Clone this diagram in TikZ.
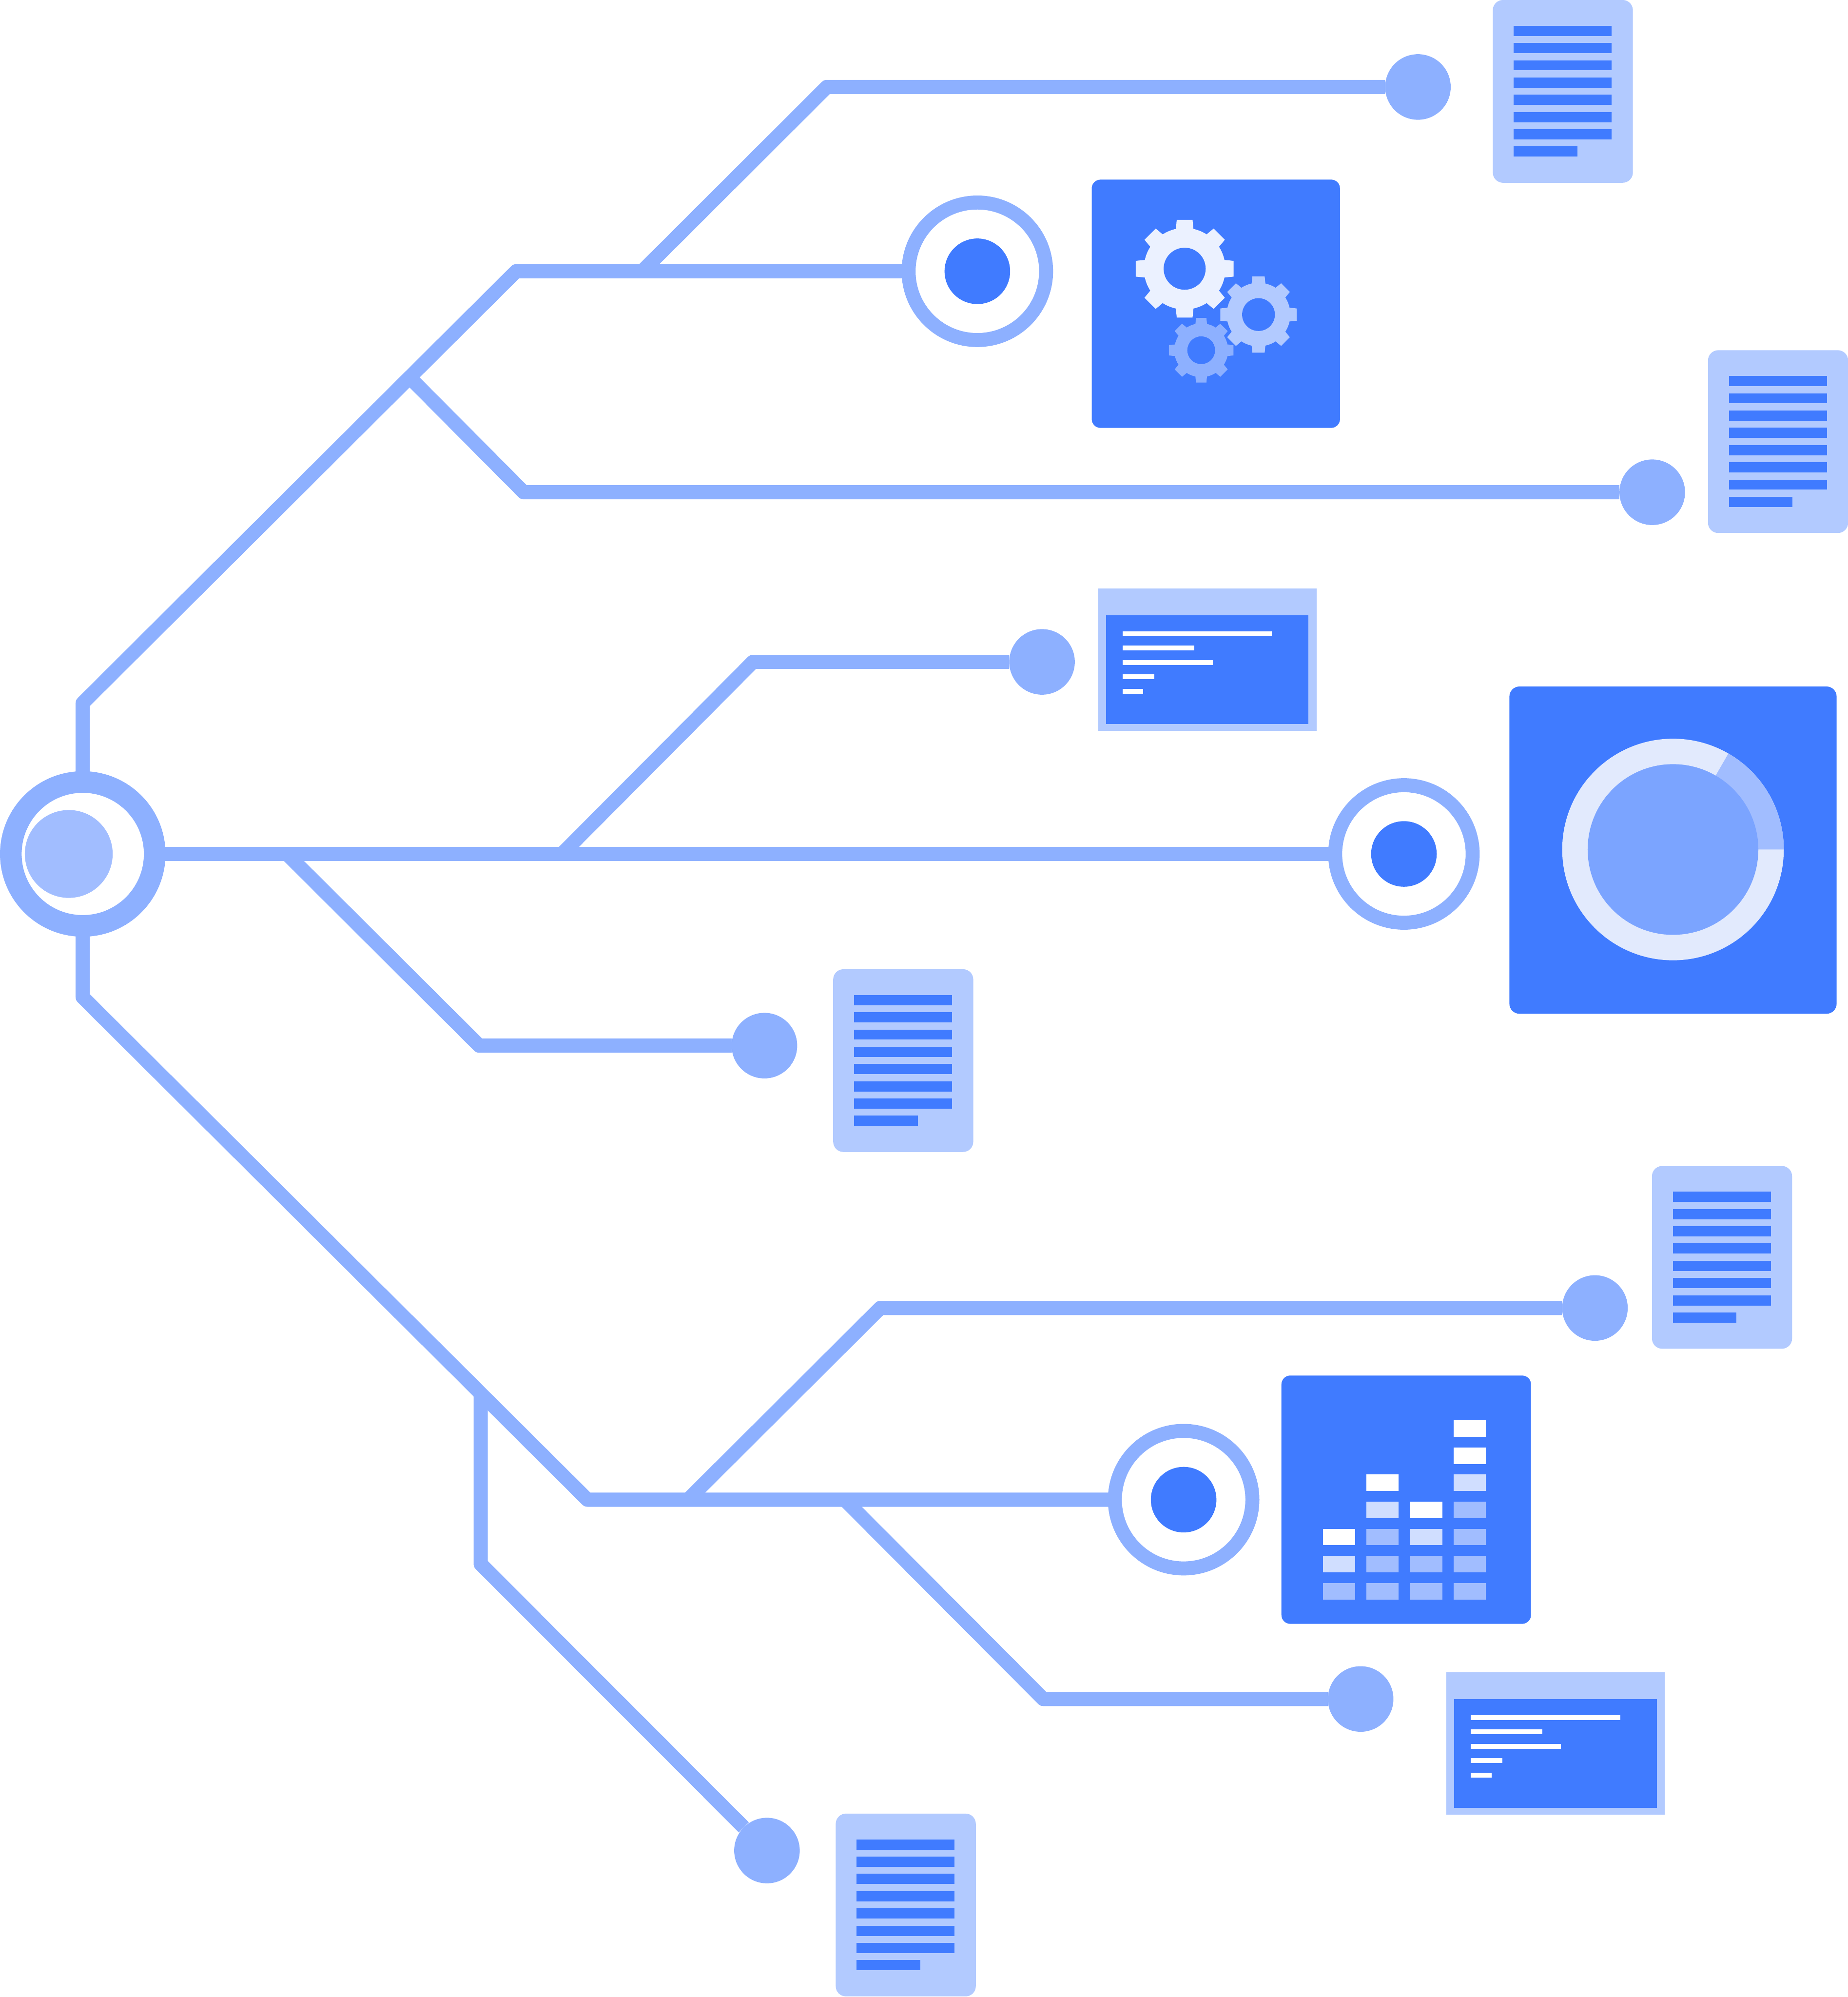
\documentclass[tikz,border=0pt]{standalone}
\usepackage{tikz}
\definecolor{LineBlue}{RGB}{141,176,255}
\definecolor{DeepBlue}{RGB}{64,123,255}
\definecolor{SheetBlue}{RGB}{178,202,255}
\definecolor{CoreBlue}{RGB}{161,189,255}
\definecolor{DiscBlue}{RGB}{123,164,255}
\definecolor{RingBlue}{RGB}{226,234,253}
\definecolor{PaleBlue}{RGB}{208,222,255}
\definecolor{GearWhite}{RGB}{235,241,255}
\tikzset{
  trunkline/.style={LineBlue,line width=0.223cm,line join=round},
  enddot/.style={circle,fill=LineBlue,minimum size=1.03cm,inner sep=0pt,outer sep=0pt},
  hubring/.style={circle,draw=LineBlue,fill=white,line width=0.22cm,minimum size=2.16cm,inner sep=0pt,outer sep=0pt},
  rootring/.style={circle,draw=LineBlue,fill=white,line width=0.34cm,minimum size=2.26cm,inner sep=0pt,outer sep=0pt},
  hubcore/.style={circle,fill=DeepBlue,minimum size=1.03cm,inner sep=0pt},
  rootcore/.style={circle,fill=CoreBlue,minimum size=1.38cm,inner sep=0pt},
  docsheet/.pic={
    \fill[SheetBlue,rounded corners=0.16cm] (0,0) rectangle (110,143.5);
    \foreach \row in {0,...,6}
      \fill[DeepBlue] (16.4,20.2+\row*13.55) rectangle ++(77,8);
    \fill[DeepBlue] (16.4,115) rectangle ++(50,8);
  },
  termwindow/.pic={
    \fill[SheetBlue] (0,0) rectangle (171.5,112);
    \fill[DeepBlue] (6.2,21) rectangle (165.2,106.4);
    \foreach \row/\len in {0/117.4,1/56.3,2/70.9,3/25,4/16.2}
      \fill[white] (19.2,33.6+\row*11.3) rectangle ++(\len,3.9);
  },
  gearwheel/.pic={
    \fill[pic actions] (0,0) circle (32);
    \foreach \a in {0,45,...,315}
      \fill[pic actions,rotate=\a] (-7,30)--(-6.2,38.4)--(6.2,38.4)--(7,30)--cycle;
    \fill[DeepBlue] (0,0) circle (16.5);
  }
}
\begin{document}
\begin{tikzpicture}[x=0.02cm,y=-0.02cm]
  \useasboundingbox (-0.3,0) rectangle (1450.7,1568);
  % hubs and end dots
  \node[rootring] (root) at (64.7,670.5) {};
  \node[rootcore] (rootinner) at (53.7,670.5) {};
  \node[hubring] (gearhub) at (767.2,213) {};
  \node[hubcore] (gearcore) at (767.2,213) {};
  \node[hubring] (dialhub) at (1102.2,670.5) {};
  \node[hubcore] (dialcore) at (1102.2,670.5) {};
  \node[hubring] (charthub) at (929.2,1177.5) {};
  \node[hubcore] (chartcore) at (929.2,1177.5) {};
  \node[enddot] (dotA) at (1113.2,68.3) {};
  \node[enddot] (dotB) at (1297.2,386.5) {};
  \node[enddot] (dotC) at (818,519.7) {};
  \node[enddot] (dotD) at (600,821) {};
  \node[enddot] (dotE) at (1252.2,1027) {};
  \node[enddot] (dotF) at (1068.2,1334) {};
  \node[enddot] (dotG) at (602,1453) {};
  % junctions and bends
  \coordinate (upknee) at (64.7,552);
  \coordinate (upbend) at (405,213);
  \coordinate (forkA) at (504,213);
  \coordinate (bendA) at (649,68.3);
  \coordinate (forkB) at (321,296);
  \coordinate (bendB) at (411,386.5);
  \coordinate (forkC) at (441,670.5);
  \coordinate (bendC) at (591,519.7);
  \coordinate (forkD) at (225,670.5);
  \coordinate (bendD) at (376,821);
  \coordinate (lowknee) at (64.7,783);
  \coordinate (lowbend) at (461,1177.5);
  \coordinate (forkE) at (540,1177.5);
  \coordinate (bendE) at (691,1027);
  \coordinate (forkF) at (663,1177.5);
  \coordinate (bendF) at (819,1334);
  \coordinate (forkG) at (377.2,1095);
  \coordinate (bendG) at (377.2,1228);
  % connectors
  \draw[trunkline] (root)--(upknee)--(upbend)--(gearhub);
  \draw[trunkline] (forkA)--(bendA)--(dotA);
  \draw[trunkline] (forkB)--(bendB)--(dotB);
  \draw[trunkline] (root)--(dialhub);
  \draw[trunkline] (forkC)--(bendC)--(dotC);
  \draw[trunkline] (forkD)--(bendD)--(dotD);
  \draw[trunkline] (root)--(lowknee)--(lowbend)--(charthub);
  \draw[trunkline] (forkE)--(bendE)--(dotE);
  \draw[trunkline] (forkF)--(bendF)--(dotF);
  \draw[trunkline] (forkG)--(bendG)--(dotG);
  % document sheets
  \pic at (1172,0) {docsheet};
  \pic at (1341,275) {docsheet};
  \pic at (654,761) {docsheet};
  \pic at (1297,915.5) {docsheet};
  \pic at (656,1424) {docsheet};
  % terminal windows
  \pic at (862,462) {termwindow};
  \pic at (1135.5,1313) {termwindow};
  % gear panel
  \fill[DeepBlue,rounded corners=0.14cm] (857,141) rectangle (1052,336);
  \pic[fill=GearWhite] at (930,211) {gearwheel};
  \pic[fill=SheetBlue,scale=0.78] at (988,247) {gearwheel};
  \pic[fill=LineBlue,scale=0.66] at (943,275) {gearwheel};
  % dial panel
  \fill[DeepBlue,rounded corners=0.16cm] (1185,539) rectangle (1442,796);
  \fill[RingBlue] (1313.5,667) circle (87);
  \fill[CoreBlue] (1313.5,667)--++(0:87) arc[start angle=0,end angle=-60,radius=87]--cycle;
  \fill[DiscBlue] (1313.5,667) circle (67);
  % chart panel
  \fill[DeepBlue,rounded corners=0.14cm] (1006,1080) rectangle (1202,1275);
  \foreach \col/\row/\shade in {0/4/white,0/5/PaleBlue,0/6/CoreBlue,
      1/2/white,1/3/PaleBlue,1/4/CoreBlue,1/5/CoreBlue,1/6/CoreBlue,
      2/3/white,2/4/PaleBlue,2/5/CoreBlue,2/6/CoreBlue,
      3/0/white,3/1/white,3/2/PaleBlue,3/3/CoreBlue,3/4/CoreBlue,3/5/CoreBlue,3/6/CoreBlue}
    \fill[\shade] (1038.6+\col*34.27,1115.1+\row*21.3) rectangle ++(25.2,13);
\end{tikzpicture}
\end{document}
